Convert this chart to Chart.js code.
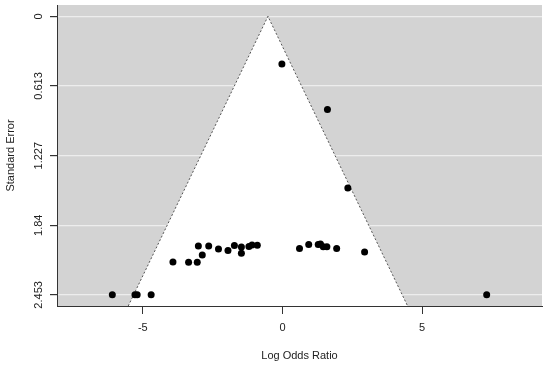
<!DOCTYPE html>
<html>
<head>
<meta charset="utf-8">
<script src="https://cdn.jsdelivr.net/npm/chart.js@4.4.1/dist/chart.umd.min.js"></script>
<style>
  body { margin: 0; background: #fff; }
</style>
</head>
<body>
<canvas id="funnelChart" width="550" height="365"></canvas>
<script>
// study estimates
const logOdds = [-0.02, 1.61, 2.34, 7.31, -6.09, -5.28, -5.2, -4.70,
  -3.92, -3.36, -3.05, -3.01, -2.87, -2.64, -2.29, -1.95, -1.72, -1.47, -1.47, -1.20, -1.09, -0.90,
  0.61, 0.94, 1.28, 1.36, 1.46, 1.59, 1.94, 2.94];
const stdErr = [0.42, 0.821, 1.511, 2.453, 2.453, 2.453, 2.453, 2.453,
  2.163, 2.166, 2.166, 2.022, 2.101, 2.022, 2.048, 2.063, 2.019, 2.031, 2.086, 2.027, 2.013, 2.016,
  2.045, 2.010, 2.010, 2.005, 2.03, 2.03, 2.045, 2.075];

const yTicks = [0, 0.613, 1.227, 1.84, 2.453];
const yTickLabels = ["0", "0.613", "1.227", "1.84", "2.453"];
const xTicks = [-5, 0, 5];

const pooled = -0.52;
const seMax = 2.551;
const xMin = -8.07;
const xMax = 9.29;

const points = logOdds.map((x, i) => ({ x: x, y: stdErr[i] }));
const funnel = [
  { x: pooled - 1.96 * seMax, y: seMax },
  { x: pooled, y: 0 },
  { x: pooled + 1.96 * seMax, y: seMax },
];
const centerLine = [{ x: pooled, y: 0 }, { x: pooled, y: seMax }];

const FONT = "Liberation Sans, Arial, sans-serif";

const grayBack = {
  id: "grayBack",
  beforeDraw(chart) {
    const a = chart.chartArea;
    const ctx = chart.ctx;
    ctx.save();
    ctx.fillStyle = "#d3d3d3";
    ctx.fillRect(a.left, a.top, a.right - a.left, a.bottom - a.top);
    ctx.restore();
  },
};

const textBits = {
  id: "textBits",
  afterDraw(chart) {
    const ctx = chart.ctx;
    const ys = chart.scales.y;
    const a = chart.chartArea;
    ctx.save();
    ctx.fillStyle = "#222";
    ctx.font = "11px " + FONT;
    ctx.textAlign = "center";
    ctx.textBaseline = "alphabetic";
    yTicks.forEach((v, i) => {
      ctx.save();
      ctx.translate(41.5, ys.getPixelForValue(v));
      ctx.rotate(-Math.PI / 2);
      ctx.fillText(yTickLabels[i], 0, 0);
      ctx.restore();
    });
    ctx.save();
    ctx.translate(14, (a.top + a.bottom) / 2);
    ctx.rotate(-Math.PI / 2);
    ctx.fillText("Standard Error", 0, 0);
    ctx.restore();
    ctx.fillText("Log Odds Ratio", (a.left + a.right) / 2, 359);
    ctx.restore();
  },
};

new Chart(document.getElementById("funnelChart"), {
  type: "scatter",
  data: {
    datasets: [
      {
        label: "Studies",
        data: points,
        pointRadius: 3.5,
        pointHoverRadius: 3.5,
        backgroundColor: "#000",
        borderWidth: 0,
      },
      {
        label: "Funnel",
        data: funnel,
        showLine: true,
        fill: { value: seMax },
        backgroundColor: "#fff",
        borderColor: "#555",
        borderWidth: 1,
        borderDash: [2, 2],
        pointRadius: 0,
        tension: 0,
      },
      {
        label: "Pooled",
        data: centerLine,
        showLine: true,
        borderColor: "#555",
        borderWidth: 1,
        borderDash: [2, 2],
        pointRadius: 0,
      },
    ],
  },
  options: {
    responsive: false,
    animation: false,
    layout: { padding: { left: 0, top: 5, right: 8, bottom: 0 } },
    plugins: {
      legend: { display: false },
      tooltip: { enabled: false },
    },
    scales: {
      x: {
        type: "linear",
        min: xMin,
        max: xMax,
        afterBuildTicks: (scale) => { scale.ticks = xTicks.map((v) => ({ value: v })); },
        afterFit: (scale) => { scale.height = 59; },
        grid: { drawOnChartArea: false, drawTicks: true, tickLength: 8, tickColor: "#333" },
        border: { display: true, color: "#333", width: 1 },
        ticks: {
          color: "#222",
          padding: 7,
          font: { family: FONT, size: 11 },
          callback: (v) => String(v),
        },
      },
      y: {
        type: "linear",
        reverse: true,
        min: -0.1,
        max: seMax,
        afterBuildTicks: (scale) => { scale.ticks = yTicks.map((v) => ({ value: v })); },
        afterFit: (scale) => { scale.width = 57; },
        grid: { color: "#ededed", lineWidth: 1.2, drawTicks: true, tickLength: 7, tickColor: "#333" },
        border: { display: true, color: "#333", width: 1 },
        ticks: { display: false },
      },
    },
  },
  plugins: [grayBack, textBits],
});
</script>
</body>
</html>
